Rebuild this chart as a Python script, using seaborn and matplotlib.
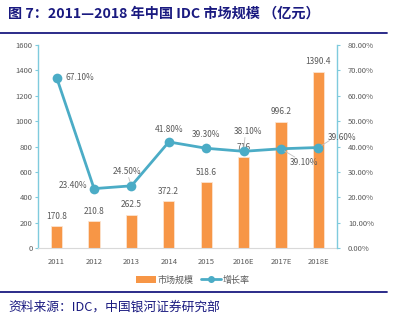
import matplotlib
matplotlib.use("Agg")
import matplotlib.pyplot as plt
import seaborn as sns
import pandas as pd
from matplotlib.lines import Line2D
from matplotlib.patches import Patch

years = ["2011", "2012", "2013", "2014", "2015", "2016E", "2017E", "2018E"]
market_size = [170.8, 210.8, 262.5, 372.2, 518.6, 716, 996.2, 1390.4]
growth_rate = [67.10, 23.40, 24.50, 41.80, 39.30, 38.10, 39.10, 39.60]
size_labels = ["170.8", "210.8", "262.5", "372.2", "518.6", "716", "996.2", "1390.4"]

sns.set_theme(style="white")
plt.rcParams["font.family"] = ["Noto Sans CJK SC", "DejaVu Sans"]

BAR = "#F79646"
LINE = "#4BACC6"
AXIS = "#7FCBDD"
TXT = "#595959"
NAVY = "#1A1A80"

df = pd.DataFrame({"year": years, "size": market_size, "rate": growth_rate})

fig = plt.figure(figsize=(4.01, 3.23), dpi=100)
ax = fig.add_axes([38 / 401, 75 / 323, 299 / 401, 203 / 323])

sns.barplot(data=df, x="year", y="size", color=BAR, width=0.3,
            edgecolor="#FCE4D0", linewidth=0.6, saturation=1, ax=ax)
ax.set_xlim(-0.5, 7.5)
ax.set_ylim(0, 1600)
ax.set_yticks(range(0, 1601, 200))
ax.set_xlabel("")
ax.set_ylabel("")

ax2 = ax.twinx()
sns.lineplot(x=range(len(years)), y=growth_rate, color=LINE, linewidth=2,
             marker="o", markersize=7, markeredgewidth=0, ax=ax2)
ax2.set_ylim(0, 80)
ax2.set_yticks(range(0, 81, 10))
ax2.set_yticklabels([f"{v:.2f}%" for v in range(0, 81, 10)])

for a in (ax, ax2):
    for s in a.spines.values():
        s.set_visible(False)
    a.tick_params(labelsize=5.5, colors=TXT, length=2, width=0.8, pad=2)
    a.grid(False)
ax.spines["left"].set_visible(True)
ax.spines["left"].set_color(AXIS)
ax.spines["left"].set_linewidth(1)
ax.spines["bottom"].set_visible(True)
ax.spines["bottom"].set_color("#D9D9D9")
ax.spines["bottom"].set_linewidth(0.8)
ax2.spines["right"].set_visible(True)
ax2.spines["right"].set_color(AXIS)
ax2.spines["right"].set_linewidth(1)
ax.tick_params(axis="y", color=AXIS, left=True)
ax.tick_params(axis="x", bottom=False, pad=5)
ax2.tick_params(axis="y", color=AXIS, right=True, pad=6)

# value labels above the bars
for i, (v, lab) in enumerate(zip(market_size, size_labels)):
    ax.annotate(lab, (i, v), xytext=(0, 7), textcoords="offset points",
                ha="center", va="center", fontsize=6, color=TXT)

# growth-rate labels, offsets in points
offsets = [(17, 0, "center"), (-15, 2, "center"), (-3, 10, "center"),
           (0, 9, "center"), (0, 10, "center"), (3, 14, "center"),
           (17, -10, "center"), (17, 7, "center")]
for i, (r, (dx, dy, ha)) in enumerate(zip(growth_rate, offsets)):
    ax2.annotate(f"{r:.2f}%", (i, r), xytext=(dx, dy), textcoords="offset points",
                 ha=ha, va="center", fontsize=6, color=TXT, zorder=5)
# short leader lines
for i, (dx, dy) in [(2, (-2, 6)), (5, (1, 10)), (7, (8, 5)), (6, (10, -6))]:
    ax2.annotate("", (i, growth_rate[i]), xytext=(dx, dy), textcoords="offset points",
                 arrowprops=dict(arrowstyle="-", color="#BFBFBF", lw=0.6,
                                 shrinkA=0, shrinkB=3))

handles = [Patch(facecolor=BAR, edgecolor="none"),
           Line2D([0], [0], color=LINE, lw=2, marker="o", markersize=4)]
fig.legend(handles, ["市场规模", "增长率"], loc="center", ncol=2,
           bbox_to_anchor=(193 / 401, 1 - 280 / 323), frameon=False,
           fontsize=6.5, labelcolor=TXT, handlelength=2.2, handleheight=0.8,
           columnspacing=0.8, handletextpad=0.2)

fig.text(8 / 401, 1 - 14 / 323, "图 7：2011—2018 年中国 IDC 市场规模 （亿元）",
         fontsize=10.2, fontweight="bold", color=NAVY, ha="left", va="center")
fig.add_artist(Line2D([0, 387 / 401], [1 - 33 / 323] * 2, color=NAVY, lw=1.3))
fig.add_artist(Line2D([0, 387 / 401], [1 - 292 / 323] * 2, color=NAVY, lw=1.3))
fig.text(8 / 401, 1 - 307 / 323, "资料来源：IDC，中国银河证券研究部",
         fontsize=9.2, style="italic", color=NAVY, ha="left", va="center")

fig.savefig("out.png", dpi=100)
